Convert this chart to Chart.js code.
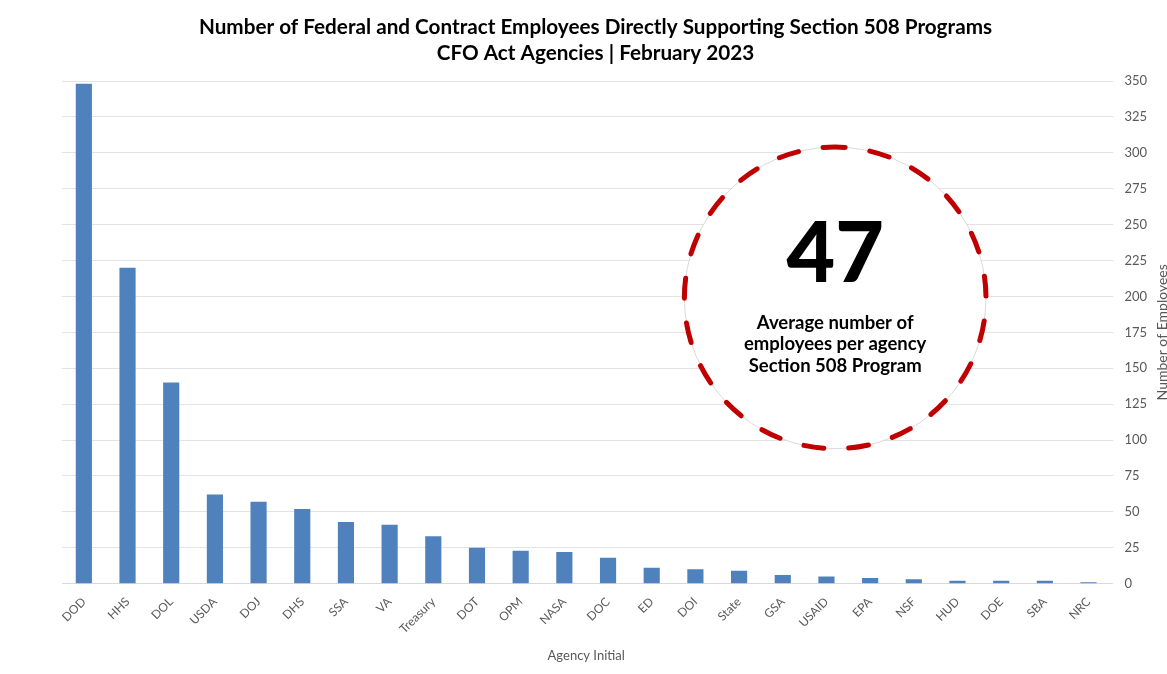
<!DOCTYPE html>
<html>
<head>
<meta charset="utf-8">
<script src="https://cdn.jsdelivr.net/npm/chart.js@4.4.0/dist/chart.umd.min.js"></script>
<style>
  html, body { margin: 0; padding: 0; background: #fff; }
  #wrap { width: 1167px; height: 674px; }
</style>
</head>
<body>
<div id="wrap"><canvas id="chart"></canvas></div>
<script>
// agencies, sorted by head count
var agencies = ["DOD", "HHS", "DOL", "USDA", "DOJ", "DHS", "SSA", "VA", "Treasury", "DOT", "OPM", "NASA",
                "DOC", "ED", "DOI", "State", "GSA", "USAID", "EPA", "NSF", "HUD", "DOE", "SBA", "NRC"];
var employees = [348, 220, 140, 62, 57, 52, 43, 41, 33, 25, 23, 22,
                 18, 11, 10, 9, 6, 5, 4, 3, 2, 2, 2, 1];
var titleLines = ["Number of Federal and Contract Employees Directly Supporting Section 508 Programs",
                  "CFO Act Agencies | February 2023"];
var calloutLines = ["Average number of", "employees per agency", "Section 508 Program"];

var total = 0;
for (var i = 0; i < employees.length; i++) total += employees[i];
var average = Math.round(total / employees.length);

var font = "Lato, 'Open Sans', sans-serif";

// two line title, a bit right of the page centre like the source
var titlePlugin = {
  id: "topTitle",
  afterDraw: function (chart) {
    var ctx = chart.ctx;
    ctx.save();
    ctx.fillStyle = "#000";
    ctx.textAlign = "center";
    ctx.textBaseline = "middle";
    ctx.font = "bold 20.7px " + font;
    for (var k = 0; k < titleLines.length; k++) {
      ctx.fillText(titleLines[k], chart.width / 2 + 12, 27 + k * 26);
    }
    ctx.restore();
  }
};

// dashed circle with the average, sitting on top of the grid
var calloutPlugin = {
  id: "callout",
  afterDatasetsDraw: function (chart) {
    var ctx = chart.ctx;
    var x = chart.scales.x, y = chart.scales.y;
    var cx = x.getPixelForValue(17.2);
    var cy = y.getPixelForValue(199);
    var r = y.getPixelForValue(0) - y.getPixelForValue(105);
    ctx.save();
    ctx.beginPath();
    ctx.arc(cx, cy, r, 0, Math.PI * 2);
    ctx.fillStyle = "#fff";
    ctx.fill();
    ctx.lineWidth = 1;
    ctx.strokeStyle = "#d9d9d9";
    ctx.stroke();
    ctx.beginPath();
    ctx.arc(cx, cy, r, -Math.PI / 2, Math.PI * 1.5);
    ctx.setLineDash([20, 25]);
    ctx.lineDashOffset = 10;
    ctx.lineCap = "round";
    ctx.lineWidth = 5;
    ctx.strokeStyle = "#c00000";
    ctx.stroke();
    ctx.setLineDash([]);
    ctx.fillStyle = "#000";
    ctx.textAlign = "center";
    ctx.textBaseline = "middle";
    ctx.font = "900 84px " + font;
    ctx.fillText(String(average), cx, cy - 43);
    ctx.font = "bold 18.5px " + font;
    for (var k = 0; k < calloutLines.length; k++) {
      ctx.fillText(calloutLines[k], cx, cy + 25 + k * 21.5);
    }
    ctx.restore();
  }
};

// right side title reads bottom-to-top, like the source
var yTitlePlugin = {
  id: "yTitle",
  afterDraw: function (chart) {
    var ctx = chart.ctx;
    var a = chart.chartArea;
    ctx.save();
    ctx.translate(chart.width - 5, (a.top + a.bottom) / 2);
    ctx.rotate(-Math.PI / 2);
    ctx.textAlign = "center";
    ctx.textBaseline = "middle";
    ctx.fillStyle = "#595959";
    ctx.font = "14px " + font;
    ctx.fillText("Number of Employees", 0, 0);
    ctx.restore();
  }
};

new Chart(document.getElementById("chart"), {
  type: "bar",
  data: {
    labels: agencies,
    datasets: [{
      label: "Employees",
      data: employees,
      backgroundColor: "#4f81bd",
      borderWidth: 0,
      barPercentage: 0.37,
      categoryPercentage: 1
    }]
  },
  options: {
    responsive: true,
    maintainAspectRatio: false,
    animation: false,
    layout: { padding: { left: 62, right: 9, top: 81, bottom: 6 } },
    plugins: {
      legend: { display: false },
      tooltip: { enabled: false },
      title: { display: false }
    },
    scales: {
      x: {
        grid: { display: false },
        border: { display: true, color: "#d9d9d9" },
        ticks: { color: "#595959", font: { family: font, size: 12 }, minRotation: 45, maxRotation: 45, autoSkip: false },
        title: { display: true, text: "Agency Initial", color: "#595959", font: { family: font, size: 13 }, padding: { top: 9 } }
      },
      y: {
        position: "right",
        min: 0,
        max: 350,
        grid: { color: "#e3e3e3", tickLength: 3 },
        border: { display: false },
        ticks: { stepSize: 25, color: "#595959", font: { family: font, size: 13 }, padding: 11 }
      }
    }
  },
  plugins: [calloutPlugin, yTitlePlugin, titlePlugin]
});
</script>
</body>
</html>
